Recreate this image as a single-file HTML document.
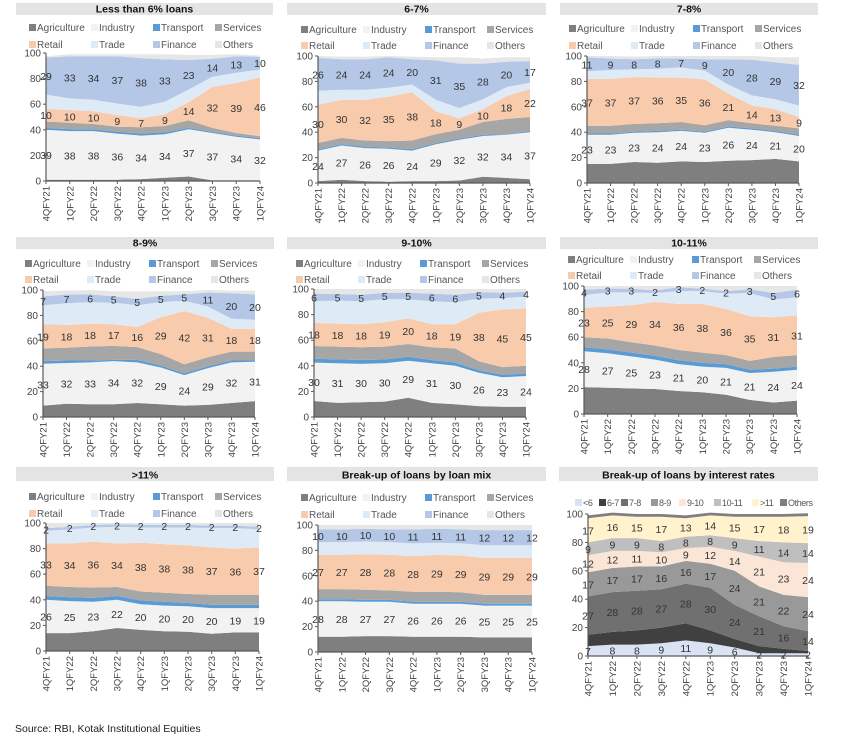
<!DOCTYPE html>
<html><head><meta charset="utf-8"><style>
body{margin:0;background:#fff;}
svg{display:block;font-family:"Liberation Sans",sans-serif;}
</style></head><body>
<svg id="chart" width="855" height="736" viewBox="0 0 855 736"></svg>
<script>
const categories = ["4QFY21","1QFY22","2QFY22","3QFY22","4QFY22","1QFY23","2QFY23","3QFY23","4QFY23","1QFY24"];
const yTicks = [0,20,40,60,80,100];
const sectorNames = ["Agriculture","Industry","Transport","Services","Retail","Trade","Finance","Others"];
const rateNames = ["<6","6-7","7-8","8-9","9-10","10-11",">11","Others"];

const p1Values = [
 [1,1,1,1,1.5,2.5,3.5,0.5,0.5,0.5],
 [39,38,38,36,34,34,37,37,34,32],
 [1.5,1.5,1.5,1.5,1.5,1.5,1,1,1,1],
 [5,5,4,4,5,5,6,3,2,1.5],
 [10,10,10,9,7,9,14,32,39,46],
 [11,9,9,9,9,10,10,8,8,6],
 [29,33,34,37,38,33,23,14,13,10],
 [1,1.5,1.5,1.5,3,4,4,3,1.5,1]];
const p2Values = [
 [1.5,2.5,1.5,1,1.5,1.5,2,5,4,3],
 [24,27,26,26,24,29,32,32,34,37],
 [1,1,1,1,1,1,1,1,0.5,1],
 [5,5,5,5,7,7,7,10,12,11],
 [30,30,32,35,38,18,9,10,18,22],
 [11,8,8,7,6,9,8,8,7,5],
 [26,24,24,24,20,31,35,28,20,17],
 [1.5,2,2,1,2,2.5,5,4,3.5,3]];
const p3Values = [
 [15,15,16.5,16,17,16.5,17.5,18,19,17],
 [23,23,23,24,24,23,26,24,21,20],
 [1,1,1,1,1,1,1,1,1,1],
 [6,6,6,6,6,5,5,4,4,5],
 [37,37,37,36,35,36,21,14,13,9],
 [6,7,6,7,8,7,7,8,8,9],
 [11,9,8,8,7,9,20,28,29,32],
 [1,2,2,2,2,2.5,2.5,3,4,6]];
const p4Values = [
 [9,10.5,10,10,11,10,9,9.5,11,12.5],
 [33,32,33,34,32,29,24,29,32,31],
 [2,2,1.5,1,2,1.5,1.5,1.5,1.5,1],
 [10,10,11,11,10,9,7,7,7,7],
 [19,18,18,17,16,29,42,31,18,18],
 [15,17,17,17,17,12,8,9,8,7],
 [7,7,6,5,5,5,5,11,20,20],
 [4,3,3.5,4,6,3.5,2.5,2,2,3]];
const p5Values = [
 [12.5,11,11.5,12,15,11,10,8.5,8,8],
 [30,31,30,30,29,31,30,26,23,24],
 [3,3,3,3,3,2.5,2.5,2,2,2],
 [10,10,10,10,10,10,11,7,6,6],
 [18,18,18,19,20,18,19,38,45,45],
 [17,18,18,18,15,18,17,11,9,9],
 [6,5,5,5,5,6,6,5,4,4],
 [3.5,4,4.5,3,3,3.5,4.5,2.5,3,2]];
const p6Values = [
 [21,20.5,20,19.5,18,17,15,11,9,10.5],
 [28,27,25,23,21,20,21,21,24,24],
 [3,3,3,3,3,3,3,2.5,2.5,2.5],
 [8,8.5,8,8,8,8,7,7,9,9],
 [23,25,29,34,36,38,36,35,31,31],
 [10,11,10,7,10,10,12,18,14,14],
 [4,3,3,2,3,2,2,3,5,6],
 [3,2,2,3.5,1,2,4,2.5,5.5,3]];
const p7Values = [
 [14,14,15.5,18,16.5,15.5,15,13.5,14.5,14.5],
 [26,25,23,22,20,20,20,20,19,19],
 [3,3,3,3,3,3,2.5,2.5,2.5,2.5],
 [8,8,8,7,7,7,7,8,8,8],
 [33,34,36,34,38,38,38,37,36,37],
 [10,11,11,13,12,13,14,15,16,14],
 [2,2,2,2,2,2,2,2,2,2],
 [4,3,1.5,1,1.5,1.5,1.5,2,2,3]];
const p8Values = [
 [12,12,12.5,12.5,12,12,12,11.5,11.5,11.5],
 [28,28,27,27,26,26,26,25,25,25],
 [1.5,1.5,1.5,1.5,1.5,1.5,1.5,1.5,1.5,1.5],
 [8,8,8,7.5,8,8,7.5,7,7,7],
 [27,27,28,28,28,29,29,29,29,29],
 [10,10,10,10,10,9.5,9.5,10,10,10],
 [10,10,10,10,11,11,11,12,12,12],
 [3.5,3.5,3,3.5,3.5,3,3.5,4,4,4]];
const p9Values = [
 [7,8,8,9,11,9,6,2,2,2],
 [8,9,10,11,12,9,6,5,3,1.5],
 [27,28,28,27,28,30,24,21,16,14],
 [17,17,17,16,16,17,24,21,22,24],
 [12,12,11,10,9,12,14,21,23,24],
 [9,9,9,8,8,8,9,11,14,14],
 [17,16,15,17,13,14,15,17,18,19],
 [2,2,2,2,2,2,2,2,2,2]];

const sectorColors = ["#7f7f7f","#f2f2f2","#5b9bd5","#a6a6a6","#f8cbad","#deebf7","#b4c7e7","#e7e6e6"];
const rateColors = ["#dae3f3","#404040","#707070","#999999","#fbe5d6","#bfbfbf","#fff2cc","#7f7f7f"];

const NS = "http://www.w3.org/2000/svg";
const svg = document.getElementById("chart");
function mk(tag, attrs, parent, txt){
  const e = document.createElementNS(NS, tag);
  for (const k in attrs) e.setAttribute(k, attrs[k]);
  if (txt !== undefined) e.textContent = txt;
  (parent || svg).appendChild(e);
  return e;
}
function slug(s){ return s.toLowerCase().replace(/</g,'lt').replace(/>/g,'gt').replace(/[^a-z0-9]+/g,'-').replace(/^-|-$/g,''); }

function drawPanel(p){
  const g = mk("g", {});
  
  
  const tb = mk("rect", {x:p.tx0, y:p.ty, width:p.tx1-p.tx0, height:p.th, fill:"#e4e4e4"}, g);
  
  
  const tt = mk("text", {x:(p.tx0+p.tx1)/2, y:p.ty+p.th-2.5, "text-anchor":"middle", "font-size":"10.5", "font-weight":"bold", fill:"#111"}, g, p.title);
  
  
  const lfs = p.legendFont || 10;
  p.legend.forEach((pos, i) => {
    const lg = mk("g", {}, g);
    
    
    mk("rect", {x:pos[0], y:pos[1]-7, width:7, height:7, fill:p.colors[i]}, lg);
    mk("text", {x:pos[0]+8, y:pos[1], "font-size":lfs, "letter-spacing":(p.legendSpacing||0), fill:"#555"}, lg, p.names[i]);
  });
  const n = categories.length;
  const X = i => p.x0 + i*(p.x1-p.x0)/(n-1);
  const Y = v => p.y0 - v*(p.y0-p.y100)/100;
  const cum = new Array(n).fill(0);
  const bases = [];
  p.values.forEach((s, si) => {
    const lo = cum.slice();
    for (let i=0;i<n;i++) cum[i] += s[i];
    const hi = cum.slice();
    bases.push([lo, hi]);
    let pts = [];
    for (let i=0;i<n;i++) pts.push(X(i).toFixed(1)+","+Y(hi[i]).toFixed(1));
    for (let i=n-1;i>=0;i--) pts.push(X(i).toFixed(1)+","+Y(lo[i]).toFixed(1));
    const a = mk("polygon", {points:pts.join(" "), fill:p.colors[si]}, g);
    
    
  });
  const ya = mk("line", {x1:p.x0, y1:p.y100, x2:p.x0, y2:p.y0, stroke:"#595959", "stroke-width":1.2}, g);
  
  
  yTicks.forEach(t => {
    mk("line", {x1:p.x0-3, y1:Y(t), x2:p.x0, y2:Y(t), stroke:"#595959"}, g);
    const tl = mk("text", {x:p.x0-5, y:Y(t)+3.5, "text-anchor":"end", "font-size":"10", fill:"#444"}, g, String(t));
    
    
  });
  const xa = mk("line", {x1:p.x0, y1:p.y0, x2:p.x1, y2:p.y0, stroke:"#595959", "stroke-width":1.2}, g);
  
  
  categories.forEach((c, i) => {
    mk("line", {x1:X(i), y1:p.y0, x2:X(i), y2:p.y0+3, stroke:"#595959"}, g);
    const xl = mk("text", {x:0, y:0, "text-anchor":"end", "font-size":"9.5", fill:"#444",
      transform:"translate("+(X(i)+3.5)+","+(p.y0+5)+") rotate(-90)"}, g, c);
    
    
  });
  p.labelIdx.forEach(si => {
    const [lo, hi] = bases[si];
    for (let i=0;i<n;i++){
      const v = p.values[si][i];
      const vl = mk("text", {x:X(i), y:Y((lo[i]+hi[i])/2)+4, "text-anchor":"middle", "font-size":"10.5", fill:"#333"}, g, String(Math.round(v)));
      
      
    }
  });
}
function leg4(x, y1, y2){
  const c = [0,62,124,186];
  return [[x+c[0],y1],[x+c[1],y1],[x+c[2],y1],[x+c[3],y1],[x+c[0],y2],[x+c[1],y2],[x+c[2],y2],[x+c[3],y2]];
}
const sectorLabels = [1,4,6];
const panels = [
 {id:"lt6", title:"Less than 6% loans", values:p1Values, tx0:16, tx1:273, ty:3, th:12, legend:leg4(29,31,48), x0:46, x1:260, y0:181, y100:53},
 {id:"r6-7", title:"6-7%", values:p2Values, tx0:287, tx1:546, ty:3, th:12, legend:leg4(301,33,49), x0:318, x1:530, y0:183, y100:56},
 {id:"r7-8", title:"7-8%", values:p3Values, tx0:560, tx1:818, ty:3, th:12, legend:leg4(569,32,49), x0:587, x1:799, y0:183, y100:56},
 {id:"r8-9", title:"8-9%", values:p4Values, tx0:16, tx1:274, ty:237, th:12, legend:leg4(25,267,283), x0:43, x1:255, y0:417, y100:290},
 {id:"r9-10", title:"9-10%", values:p5Values, tx0:287, tx1:546, ty:237, th:12, legend:leg4(296,267,283), x0:314, x1:526, y0:417, y100:289},
 {id:"r10-11", title:"10-11%", values:p6Values, tx0:560, tx1:818, ty:237, th:12, legend:leg4(568,263,279), x0:584, x1:797, y0:414, y100:286},
 {id:"gt11", title:">11%", values:p7Values, tx0:16, tx1:274, ty:467, th:14, legend:leg4(29,500,517), x0:46, x1:259, y0:651, y100:523},
 {id:"loan-mix", title:"Break-up of loans by loan mix", values:p8Values, tx0:287, tx1:546, ty:467, th:14, legend:leg4(301,501,518), x0:318, x1:532, y0:652, y100:525}
];
panels.forEach(p => { p.names = sectorNames; p.colors = sectorColors; p.labelIdx = sectorLabels; drawPanel(p); });
drawPanel({id:"interest-rates", title:"Break-up of loans by interest rates", values:p9Values, names:rateNames, colors:rateColors,
  labelIdx:[0,2,3,4,5,6], tx0:559, tx1:818, ty:467, th:14, legendFont:9, legendSpacing:-0.4,
  legend:[[575,506],[599,506],[621,506],[651,506],[679,506],[714,506],[752,506],[780,506]],
  x0:588, x1:808, y0:656, y100:514});

const src = mk("text", {x:15, y:732, "font-size":"10.5", fill:"#222"}, svg, "Source: RBI, Kotak Institutional Equities");


</script>
</body></html>
